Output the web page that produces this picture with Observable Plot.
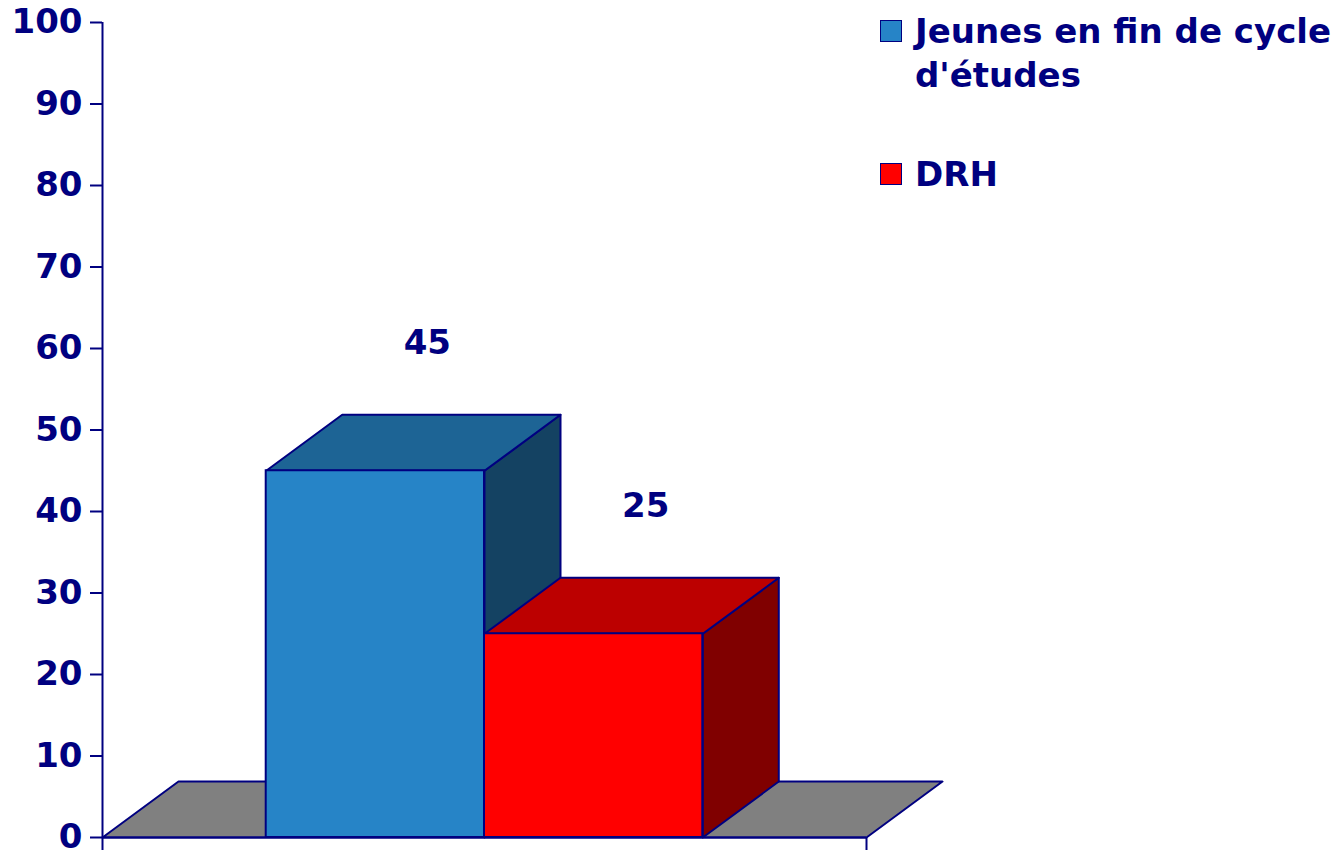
<!DOCTYPE html>
<html>
<head>
<meta charset="utf-8">
<script src="https://cdn.jsdelivr.net/npm/d3@7"></script>
<script src="https://cdn.jsdelivr.net/npm/@observablehq/plot@0.6"></script>
<style>
  body { margin: 0; background: #fff; }
  #wrap { position: relative; width: 1342px; height: 852px; font-family: "DejaVu Sans", Verdana, sans-serif; }
  .legend { position: absolute; left: 880px; color: #000080; font-weight: bold; font-size: 34px; line-height: 44px; }
  .item { position: absolute; left: 0; width: 460px; }
  .sw { position: absolute; left: 0; width: 20px; height: 20px; border: 1.5px solid #000080; }
  .lab { position: absolute; left: 35px; width: 425px; }
</style>
</head>
<body>
<div id="wrap"></div>
<script>
// ---- data ----
const categories = ["Jeunes en fin de cycle d'études", "DRH"];
const values = [45, 25];
const frontColors = ["#2684C7", "#FF0000"];
const topColors = ["#1D6495", "#BC0000"];
const sideColors = ["#144262", "#800000"];
const floorColor = "#808080";
const yTicks = [0, 10, 20, 30, 40, 50, 60, 70, 80, 90, 100];

// ---- layout ----
const W = 1342, H = 852;
const mL = 102, mR = 476, mT = 22, mB = 15;
const navy = "#000080";
const gapU = 0.75;                        // gap on each side, in bar widths
const xMax = 2 * gapU + values.length;
const pxX = (W - mL - mR) / xMax;
const pxY = (H - mT - mB) / 100;
const ddx = 76 / pxX, ddy = 56 / pxY;     // 3D depth in data units

const polys = [];
function addPoly(id, fill, pts) { pts.forEach(([x, y]) => polys.push({id, fill, x, y})); }
addPoly("floor", floorColor, [[0,0],[xMax,0],[xMax+ddx,ddy],[ddx,ddy],[0,0]]);
const fronts = values.map((v, i) => {
  const x1 = gapU + i, x2 = x1 + 1;
  addPoly("side" + i, sideColors[i], [[x2,0],[x2+ddx,ddy],[x2+ddx,v+ddy],[x2,v],[x2,0]]);
  addPoly("top" + i, topColors[i], [[x1,v],[x2,v],[x2+ddx,v+ddy],[x1+ddx,v+ddy],[x1,v]]);
  return {cat: categories[i], v, x1, x2, fill: frontColors[i]};
});

const chart = Plot.plot({
  width: W, height: H,
  marginLeft: mL, marginRight: mR, marginTop: mT, marginBottom: mB,
  style: `font-family: 'DejaVu Sans', Verdana, sans-serif; font-weight: bold; font-size: 34px; color: ${navy}; background: transparent; overflow: visible;`,
  x: {domain: [0, xMax]},
  y: {domain: [0, 100]},
  color: {type: "identity"},
  marks: [
    Plot.line(polys, {x: "x", y: "y", z: "id", fill: "fill", stroke: navy, strokeWidth: 2, curve: "linear"}),
    Plot.rect(fronts, {x1: "x1", x2: "x2", y1: 0, y2: "v", fill: "fill", stroke: navy, strokeWidth: 2}),
    Plot.text(fronts, {x: d => (d.x1 + d.x2) / 2, y: "v", text: d => String(d.v), dx: 52, dy: -128, fill: navy, fontSize: 34, fontWeight: "bold"}),
    Plot.ruleX([0], {y1: 0, y2: 100, stroke: navy, strokeWidth: 2}),
    Plot.ruleY([0], {x1: 0, x2: xMax, stroke: navy, strokeWidth: 2}),
    Plot.axisY({ticks: yTicks, tickSize: 12, tickPadding: 8, strokeWidth: 2, label: null, fontSize: 34, fontWeight: "bold"}),
    Plot.axisX({ticks: [0, xMax], tickSize: 13, tickFormat: () => "", strokeWidth: 2, label: null})
  ]
});
const wrap = document.getElementById("wrap");
wrap.appendChild(chart);

// ---- legend ----
const legend = document.createElement("div");
legend.className = "legend";
legend.style.top = "0px";
const tops = [9, 152];
categories.forEach((c, i) => {
  const item = document.createElement("div");
  item.className = "item";
  item.style.top = tops[i] + "px";
  item.innerHTML = `<div class="sw" style="top:${11}px;background:${frontColors[i]}"></div><div class="lab">${c}</div>`;
  legend.appendChild(item);
});
wrap.appendChild(legend);
</script>
</body>
</html>
